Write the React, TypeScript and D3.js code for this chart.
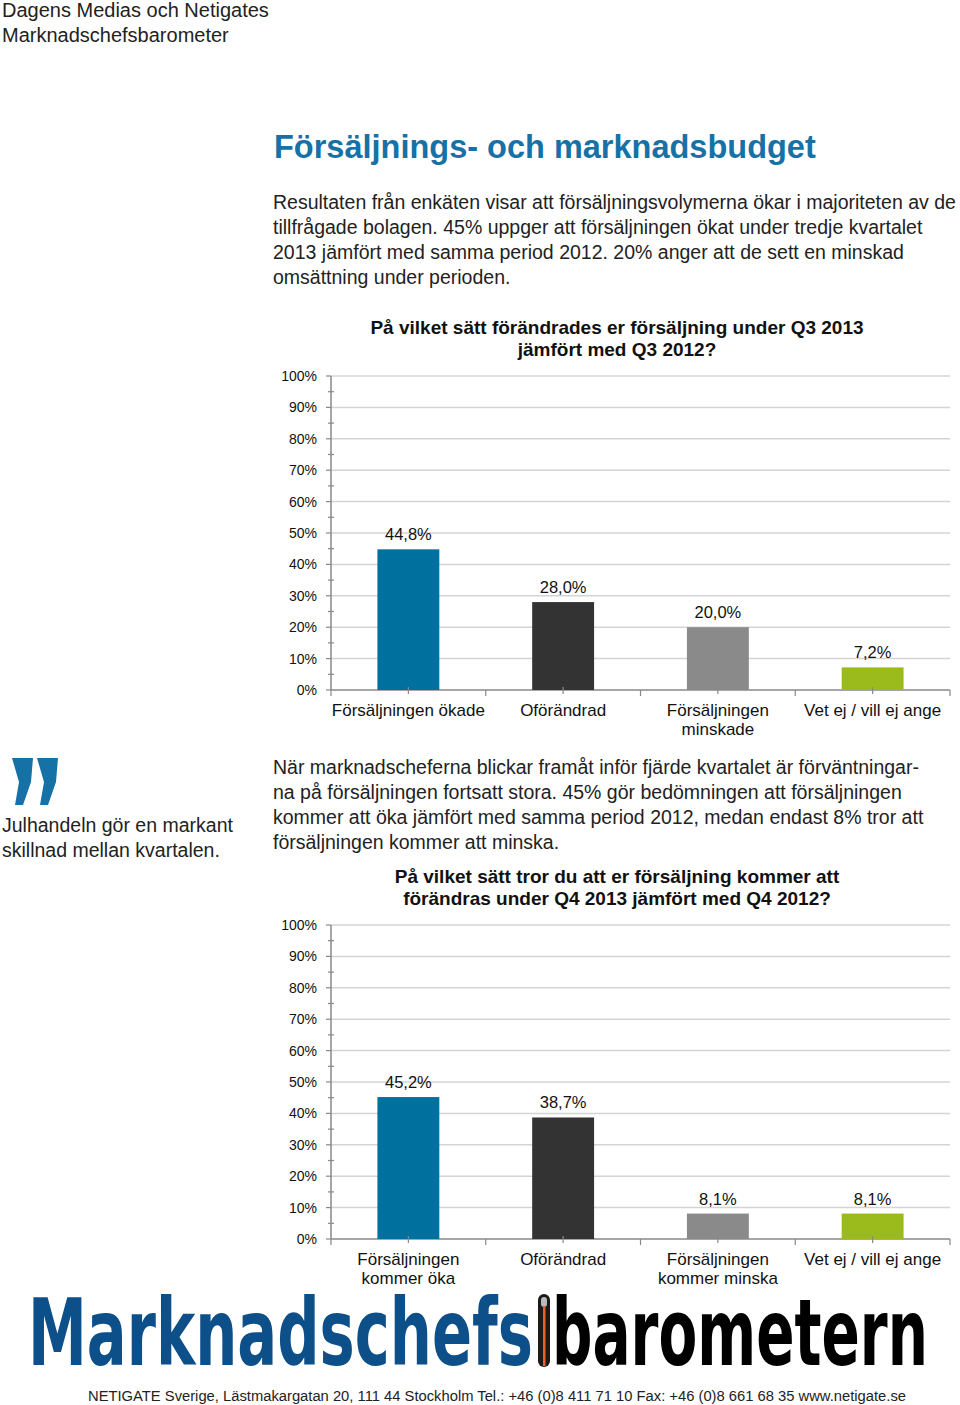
import * as d3 from 'd3';
import React from 'react';

// --- data ---
const q3Title = ["På vilket sätt förändrades er försäljning under Q3 2013", "jämfört med Q3 2012?"];
const q3Categories = [["Försäljningen ökade"], ["Oförändrad"], ["Försäljningen", "minskade"], ["Vet ej / vill ej ange"]];
const q3Values = [44.8, 28.0, 20.0, 7.2];

const q4Title = ["På vilket sätt tror du att er försäljning kommer att", "förändras under Q4 2013 jämfört med Q4 2012?"];
const q4Categories = [["Försäljningen", "kommer öka"], ["Oförändrad"], ["Försäljningen", "kommer minska"], ["Vet ej / vill ej ange"]];
const q4Values = [45.2, 38.7, 8.1, 8.1];

const barColors = ["#00709f", "#333333", "#8a8a8a", "#9bbb1c"];
const yTicks = [0, 10, 20, 30, 40, 50, 60, 70, 80, 90, 100];
const yMinorTicks = [5, 15, 25, 35, 45, 55, 65, 75, 85, 95];

const para1 = [
    "Resultaten från enkäten visar att försäljningsvolymerna ökar i majoriteten av de",
    "tillfrågade bolagen. 45% uppger att försäljningen ökat under tredje kvartalet",
    "2013 jämfört med samma period 2012. 20% anger att de sett en minskad",
    "omsättning under perioden.",
];
const para2 = [
    "När marknadscheferna blickar framåt inför fjärde kvartalet är förväntningar-",
    "na på försäljningen fortsatt stora. 45% gör bedömningen att försäljningen",
    "kommer att öka jämfört med samma period 2012, medan endast 8% tror att",
    "försäljningen kommer att minska.",
];
const quote = ["Julhandeln gör en markant", "skillnad mellan kvartalen."];

const FONT = "'Liberation Sans', Arial, Helvetica, sans-serif";
const fmt = (v: number) => d3.format(".1f")(v).replace(".", ",") + "%";

type ChartProps = {
    title: string[],
    titleY: number,
    categories: string[][],
    values: number[],
    top: number,
    bottom: number,
}

const BarChart = ({ title, titleY, categories, values, top, bottom }: ChartProps) => {
    const left = 331;
    const right = 950;
    const x = d3.scaleBand<number>().domain(d3.range(categories.length)).range([left, right]);
    const y = d3.scaleLinear().domain([0, 100]).range([bottom, top]);
    const bw = x.bandwidth() * 0.4;
    const boundaries = d3.range(categories.length + 1).map(i => left + i * x.bandwidth());

    return <g fontFamily={FONT}>
        {title.map((t, i) =>
            <text key={i} x={617} y={titleY + i * 22} textAnchor="middle" fontSize={19} fontWeight="bold" fill="#111">{t}</text>
        )}
        {yTicks.map(t => <g key={t}>
            {t > 0 && <line x1={left} x2={right} y1={y(t)} y2={y(t)} stroke="#d4d4d4" strokeWidth={1.5} />}
            <line x1={left - 5} x2={left} y1={y(t)} y2={y(t)} stroke="#888" strokeWidth={1.2} />
            <text x={317} y={y(t)} dy="0.36em" textAnchor="end" fontSize={14} fill="#111">{t}%</text>
        </g>)}
        {yMinorTicks.map(t =>
            <line key={t} x1={left - 3} x2={left + 3} y1={y(t)} y2={y(t)} stroke="#888" strokeWidth={1.2} />
        )}
        <line x1={left} x2={left} y1={top} y2={bottom} stroke="#888" strokeWidth={1.5} />
        <line x1={left} x2={right} y1={bottom} y2={bottom} stroke="#888" strokeWidth={1.5} />
        {boundaries.map((b, i) =>
            <line key={i} x1={b} x2={b} y1={bottom} y2={bottom + 6} stroke="#888" strokeWidth={1.2} />
        )}
        {values.map((v, i) => {
            const cx = x(i)! + x.bandwidth() / 2;
            return <g key={i}>
                <rect x={cx - bw / 2} y={y(v)} width={bw} height={bottom - y(v)} fill={barColors[i]} />
                <line x1={cx} x2={cx} y1={bottom - 3} y2={bottom + 4} stroke="#888" strokeWidth={1.2} />
                <text x={cx} y={y(v) - 9} textAnchor="middle" fontSize={16.5} fill="#111">{fmt(v)}</text>
                {categories[i].map((c, j) =>
                    <text key={j} x={cx} y={bottom + 26 + j * 19} textAnchor="middle" fontSize={17} fill="#111">{c}</text>
                )}
            </g>
        })}
    </g>
}

export default function App() {
    return <div style={{ position: 'absolute', left: 0, top: 0 }}>
        <svg width={960} height={1405} viewBox="0 0 960 1405" style={{ display: 'block', background: '#fff' }}>
            <g fontFamily={FONT} fill="#222">
                <text x={2} y={17} fontSize={20}>Dagens Medias och Netigates</text>
                <text x={2} y={42} fontSize={20}>Marknadschefsbarometer</text>
                <text x={274} y={158} fontSize={32.5} fontWeight="bold" fill="#1672a6">Försäljnings- och marknadsbudget</text>
                {para1.map((t, i) => <text key={i} x={273} y={209 + i * 25} fontSize={19.5}>{t}</text>)}
                {para2.map((t, i) => <text key={i} x={273} y={774 + i * 25} fontSize={19.5}>{t}</text>)}
                {quote.map((t, i) => <text key={i} x={2} y={832 + i * 25} fontSize={19.5}>{t}</text>)}
            </g>
            {/* quote marks */}
            <g fill="#1672a6">
                <path d="M12,758 L33,758 L31,782 L23,805 L15,805 L19,782 Z" />
                <path d="M37,758 L58,758 L56,782 L48,805 L40,805 L44,782 Z" />
            </g>

            <BarChart title={q3Title} titleY={334} categories={q3Categories} values={q3Values} top={376} bottom={690} />
            <BarChart title={q4Title} titleY={883} categories={q4Categories} values={q4Values} top={925} bottom={1239} />

            {/* logo: condensed bold, stretched vertically */}
            <g fontFamily="'DejaVu Sans Condensed', 'Liberation Sans', sans-serif" fontWeight="bold">
                <g transform="translate(28,1365) scale(1,1.45)">
                    <text x={0} y={0} fontSize={63.5} textLength={505} lengthAdjust="spacingAndGlyphs" fill="#0d4f89">Marknadschefs</text>
                </g>
                <g transform="translate(552,1365) scale(1,1.45)">
                    <text x={0} y={0} fontSize={63.5} textLength={376} lengthAdjust="spacingAndGlyphs" fill="#000">barometern</text>
                </g>
            </g>
            <rect x={538} y={1294} width={12} height={73} rx={6} fill="#1a1a1a" />
            <rect x={541} y={1297} width={6} height={10} rx={3} fill="#bbb" />
            <rect x={543} y={1306} width={2.5} height={60} fill="#e8622a" />

            <text x={497} y={1401} textAnchor="middle" fontFamily={FONT} fontSize={14} textLength={818} lengthAdjust="spacingAndGlyphs" fill="#222">
                NETIGATE Sverige, Lästmakargatan 20, 111 44 Stockholm   Tel.: +46 (0)8 411 71 10   Fax: +46 (0)8 661 68 35 www.netigate.se
            </text>
        </svg>
    </div>
}
